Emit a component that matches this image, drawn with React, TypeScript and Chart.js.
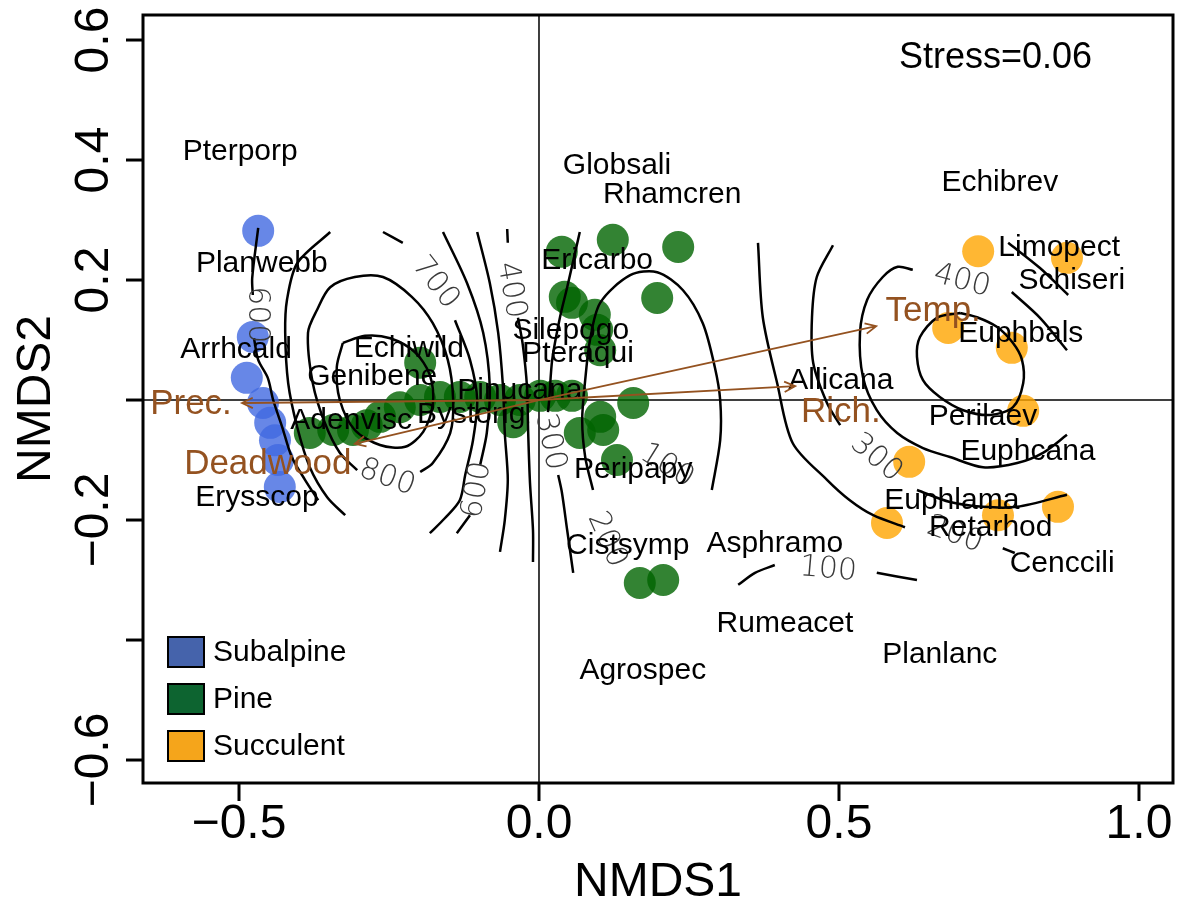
import React, { useEffect, useRef } from 'react';
import { Chart, registerables } from 'chart.js';
Chart.register(...registerables);

type P = [number, number];

// ---- site scores (NMDS1, NMDS2) ----
const subalpine: P[] = [
  [-0.468, 0.282], [-0.477, 0.105], [-0.487, 0.037], [-0.46, -0.005],
  [-0.448, -0.038], [-0.44, -0.067], [-0.435, -0.1], [-0.432, -0.145],
];
const pine: P[] = [
  [-0.382, -0.055], [-0.343, -0.05], [-0.31, -0.05], [-0.287, -0.042], [-0.265, -0.028],
  [-0.232, -0.012], [-0.198, 0.0], [-0.165, 0.005], [-0.132, 0.005], [-0.098, 0.005],
  [-0.065, 0.0], [-0.043, -0.037], [-0.032, 0.0], [0.002, 0.007], [0.027, 0.007],
  [0.055, 0.007], [0.102, -0.028], [0.068, -0.055], [0.107, -0.05], [0.157, -0.005],
  [0.13, -0.1], [-0.198, 0.062], [0.038, 0.247], [0.123, 0.267], [0.232, 0.255],
  [0.197, 0.17], [0.043, 0.172], [0.055, 0.162], [0.093, 0.142], [0.097, 0.117],
  [0.102, 0.083], [0.168, -0.305], [0.207, -0.3],
];
const succulent: P[] = [
  [0.732, 0.248], [0.88, 0.237], [0.682, 0.12], [0.788, 0.087], [0.807, -0.018],
  [0.617, -0.103], [0.58, -0.205], [0.765, -0.192], [0.865, -0.178],
];

// ---- species scores ----
const speciesNames = ['Pterporp', 'Planwebb', 'Arrhcald', 'Erysscop', 'Echiwild', 'Genibene', 'Adenvisc', 'Bystorig', 'Pinucana', 'Globsali', 'Rhamcren', 'Ericarbo', 'Silepogo', 'Pteraqui', 'Peripapy', 'Cistsymp', 'Asphramo', 'Rumeacet', 'Agrospec', 'Allicana', 'Echibrev', 'Limopect', 'Schiseri', 'Euphbals', 'Perilaev', 'Euphcana', 'Euphlama', 'Retarhod', 'Cenccili', 'Planlanc'];
const speciesX = [-0.498, -0.462, -0.505, -0.47, -0.217, -0.278, -0.313, -0.113, -0.032, 0.13, 0.222, 0.097, 0.053, 0.065, 0.157, 0.148, 0.393, 0.41, 0.173, 0.503, 0.768, 0.867, 0.888, 0.803, 0.74, 0.815, 0.688, 0.753, 0.872, 0.668];
const speciesY = [0.413, 0.227, 0.083, -0.163, 0.085, 0.038, -0.035, -0.025, 0.015, 0.39, 0.342, 0.232, 0.115, 0.077, -0.117, -0.243, -0.24, -0.373, -0.452, 0.032, 0.362, 0.253, 0.198, 0.11, -0.028, -0.087, -0.168, -0.213, -0.273, -0.425];

// ---- environmental vectors ----
const envNames = ['Prec.', 'Deadwood', 'Temp.', 'Rich.'];
const envArrowX = [-0.495, -0.307, 0.562, 0.427];
const envArrowY = [-0.005, -0.073, 0.123, 0.023];
const envLabelX = [-0.58, -0.452, 0.657, 0.503];
const envLabelY = [-0.007, -0.108, 0.148, -0.02];

// ---- ordisurf contour segments (NMDS1, NMDS2) ----
const contourSegments: P[][] = [
  // 600 left
  [[-0.468, 0.287], [-0.478, 0.203], [-0.477, 0.175]],
  [[-0.475, 0.103], [-0.468, 0.067], [-0.452, 0.037], [-0.443, 0.0], [-0.428, -0.045], [-0.412, -0.095], [-0.39, -0.133], [-0.368, -0.167]],
  // 700 left
  [[-0.348, 0.28], [-0.403, 0.228], [-0.42, 0.167], [-0.423, 0.112], [-0.418, 0.028], [-0.403, -0.045], [-0.382, -0.112], [-0.353, -0.162], [-0.323, -0.192]],
  // 800 loop
  [[-0.303, -0.117], [-0.332, -0.088], [-0.357, -0.038], [-0.377, 0.028], [-0.385, 0.112], [-0.37, 0.15], [-0.348, 0.188], [-0.307, 0.205], [-0.26, 0.205], [-0.212, 0.172], [-0.177, 0.128], [-0.152, 0.067], [-0.143, 0.0], [-0.148, -0.055], [-0.177, -0.105], [-0.198, -0.12]],
  // inner loop
  [[-0.327, 0.095], [-0.337, 0.055], [-0.332, 0.0], [-0.307, -0.05], [-0.265, -0.075], [-0.223, -0.078], [-0.193, -0.053], [-0.177, -0.008], [-0.182, 0.042], [-0.207, 0.08], [-0.248, 0.103], [-0.29, 0.107], [-0.327, 0.095]],
  // 700 right
  [[-0.26, 0.28], [-0.227, 0.262]],
  [[-0.14, 0.133], [-0.115, 0.067], [-0.103, 0.0], [-0.11, -0.067], [-0.123, -0.125], [-0.132, -0.167], [-0.157, -0.197], [-0.182, -0.222]],
  // 600 right
  [[-0.16, 0.28], [-0.12, 0.195], [-0.093, 0.112], [-0.082, 0.022], [-0.087, -0.055], [-0.098, -0.108]],
  [[-0.115, -0.192], [-0.137, -0.222]],
  // 500 right
  [[-0.103, 0.28], [-0.082, 0.195], [-0.068, 0.112], [-0.06, 0.022], [-0.057, -0.055], [-0.052, -0.133], [-0.057, -0.2], [-0.065, -0.253]],
  // 400
  [[-0.053, 0.285], [-0.052, 0.262]],
  [[-0.035, 0.137], [-0.027, 0.092], [-0.02, 0.022], [-0.018, -0.055], [-0.015, -0.138], [-0.01, -0.217], [-0.01, -0.27]],
  // 300 middle
  [[0.068, 0.28], [0.047, 0.188], [0.035, 0.138], [0.022, 0.067], [0.017, 0.0], [0.015, -0.02]],
  [[0.032, -0.125], [0.038, -0.153], [0.047, -0.217], [0.057, -0.288]],
  // dome (low values)
  [[0.09, -0.15], [0.077, -0.095], [0.072, -0.033], [0.077, 0.033], [0.085, 0.1], [0.102, 0.162], [0.152, 0.208], [0.197, 0.213], [0.24, 0.183], [0.273, 0.128], [0.293, 0.055], [0.302, 0.0], [0.302, -0.067], [0.288, -0.15]],
  // 200 right system
  [[0.365, 0.262], [0.373, 0.138], [0.397, 0.028], [0.423, -0.072], [0.48, -0.133], [0.518, -0.167], [0.557, -0.192], [0.61, -0.212]],
  [[0.773, -0.247], [0.793, -0.255]],
  // 300 right system
  [[0.49, 0.258], [0.463, 0.205], [0.455, 0.138], [0.457, 0.062], [0.48, -0.005], [0.502, -0.042]],
  [[0.63, -0.15], [0.685, -0.17], [0.74, -0.178], [0.797, -0.178], [0.88, -0.158]],
  [[0.782, 0.262], [0.835, 0.22], [0.882, 0.175]],
  // 400 right system
  [[0.88, 0.083], [0.835, 0.137], [0.788, 0.18]],
  [[0.623, 0.217], [0.598, 0.222], [0.573, 0.205], [0.547, 0.167], [0.535, 0.112], [0.54, 0.038], [0.563, -0.017], [0.597, -0.055], [0.64, -0.08], [0.685, -0.095], [0.74, -0.112], [0.797, -0.105], [0.84, -0.088], [0.88, -0.058]],
  // inner right loop
  [[0.702, 0.145], [0.663, 0.137], [0.635, 0.105], [0.63, 0.072], [0.64, 0.033], [0.668, 0.005], [0.707, -0.017], [0.752, -0.025], [0.79, -0.012], [0.807, 0.028], [0.805, 0.067], [0.79, 0.095], [0.763, 0.122], [0.73, 0.138], [0.702, 0.145]],
  // 100 bottom
  [[0.332, -0.308], [0.36, -0.288], [0.393, -0.275]],
  [[0.563, -0.288], [0.63, -0.3]],
];

const contourLabelText = ['600', '800', '700', '600', '400', '300', '200', '100', '200', '300', '400', '100'];
const contourLabelX = [-0.47, -0.253, -0.173, -0.103, -0.047, 0.018, 0.113, 0.213, 0.693, 0.562, 0.705, 0.482];
const contourLabelY = [0.142, -0.13, 0.195, -0.15, 0.183, -0.07, -0.233, -0.11, -0.225, -0.097, 0.198, -0.283];
const contourLabelAngle = [90, 20, 52, -80, 80, 78, 66, 32, 20, 40, 15, 5];

const xTicks = [-0.5, 0, 0.5, 1.0];
const xTickLabels = ['\u22120.5', '0.0', '0.5', '1.0'];
const yTicks = [-0.6, -0.4, -0.2, 0, 0.2, 0.4, 0.6];
const yTickLabels = ['\u22120.6', '', '\u22120.2', '', '0.2', '0.4', '0.6'];

const groupNames = ['Subalpine', 'Pine', 'Succulent'];
const groupPointColors = ['rgba(65,105,225,0.8)', 'rgba(0,100,0,0.8)', 'rgba(255,165,0,0.8)'];
const groupLegendColors = ['#4563AB', '#0D6430', '#F5A51B'];
const stressText = 'Stress=0.06';

const SANS = '"Liberation Sans", Arial, Helvetica, sans-serif';
const BROWN = 'rgb(148,82,32)';

export default function App() {
  const ref = useRef<HTMLCanvasElement | null>(null);
  useEffect(() => {
    const canvas = ref.current;
    if (!canvas) return;

    const overlay = {
      id: 'overlay',
      beforeDatasetsDraw(chart: any) {
        const { ctx, chartArea: a, scales } = chart;
        const x0 = scales.x.getPixelForValue(0);
        const y0 = scales.y.getPixelForValue(0);
        ctx.save();
        ctx.strokeStyle = '#000';
        ctx.lineWidth = 1.5;
        ctx.beginPath();
        ctx.moveTo(x0, a.top); ctx.lineTo(x0, a.bottom);
        ctx.moveTo(a.left, y0); ctx.lineTo(a.right, y0);
        ctx.stroke();
        ctx.restore();
      },
      afterDatasetsDraw(chart: any) {
        const { ctx, chartArea: a, scales } = chart;
        const px = (v: number) => scales.x.getPixelForValue(v);
        const py = (v: number) => scales.y.getPixelForValue(v);
        ctx.save();
        // contour labels
        ctx.fillStyle = '#3a3a3a';
        ctx.font = '200 30px "DejaVu Sans", sans-serif';
        ctx.textAlign = 'center';
        ctx.textBaseline = 'middle';
        contourLabelText.forEach((t, i) => {
          ctx.save();
          ctx.translate(px(contourLabelX[i]), py(contourLabelY[i]));
          ctx.rotate((contourLabelAngle[i] * Math.PI) / 180);
          ctx.fillText(t, 0, 0);
          ctx.restore();
        });
        // species labels
        ctx.fillStyle = '#000';
        ctx.font = `30px ${SANS}`;
        speciesNames.forEach((n, i) => {
          ctx.fillText(n, px(speciesX[i]), py(speciesY[i]));
        });
        // env arrows
        ctx.strokeStyle = BROWN;
        ctx.lineWidth = 1.8;
        const ox = px(0), oy = py(0);
        envNames.forEach((_, i) => {
          const tx = px(envArrowX[i]), ty = py(envArrowY[i]);
          ctx.beginPath();
          ctx.moveTo(ox, oy); ctx.lineTo(tx, ty);
          const th = Math.atan2(ty - oy, tx - ox);
          const L = 12;
          ctx.moveTo(tx - L * Math.cos(th - 0.45), ty - L * Math.sin(th - 0.45));
          ctx.lineTo(tx, ty);
          ctx.lineTo(tx - L * Math.cos(th + 0.45), ty - L * Math.sin(th + 0.45));
          ctx.stroke();
        });
        ctx.fillStyle = BROWN;
        ctx.font = `35px ${SANS}`;
        envNames.forEach((n, i) => {
          ctx.fillText(n, px(envLabelX[i]), py(envLabelY[i]));
        });
        // stress
        ctx.fillStyle = '#000';
        ctx.font = `36px ${SANS}`;
        ctx.textAlign = 'right';
        ctx.textBaseline = 'alphabetic';
        ctx.fillText(stressText, a.right - 81, a.top + 53);
        // legend
        ctx.textAlign = 'left';
        ctx.textBaseline = 'middle';
        ctx.font = `30px ${SANS}`;
        groupNames.forEach((n, i) => {
          const lx = a.left + 25;
          const ly = a.bottom - 146 + i * 47;
          ctx.fillStyle = groupLegendColors[i];
          ctx.fillRect(lx, ly, 36, 30);
          ctx.strokeStyle = '#000';
          ctx.lineWidth = 2;
          ctx.strokeRect(lx, ly, 36, 30);
          ctx.fillStyle = '#000';
          ctx.fillText(n, lx + 45, ly + 16);
        });
        ctx.restore();
      },
      afterDraw(chart: any) {
        const { ctx, chartArea: a, scales } = chart;
        ctx.save();
        ctx.strokeStyle = '#000';
        ctx.lineWidth = 3;
        ctx.strokeRect(a.left, a.top, a.right - a.left, a.bottom - a.top);
        ctx.fillStyle = '#000';
        ctx.font = `48px ${SANS}`;
        // x ticks
        ctx.textAlign = 'center';
        ctx.textBaseline = 'alphabetic';
        xTicks.forEach((t, i) => {
          const x = scales.x.getPixelForValue(t);
          ctx.beginPath();
          ctx.moveTo(x, a.bottom); ctx.lineTo(x, a.bottom + 18);
          ctx.stroke();
          ctx.fillText(xTickLabels[i], x, a.bottom + 55);
        });
        // y ticks
        yTicks.forEach((t, i) => {
          const y = scales.y.getPixelForValue(t);
          ctx.beginPath();
          ctx.moveTo(a.left, y); ctx.lineTo(a.left - 17, y);
          ctx.stroke();
          if (yTickLabels[i]) {
            ctx.save();
            ctx.translate(a.left - 35, y);
            ctx.rotate(-Math.PI / 2);
            ctx.fillText(yTickLabels[i], 0, 0);
            ctx.restore();
          }
        });
        // axis titles
        ctx.fillText('NMDS1', (a.left + a.right) / 2, a.bottom + 113);
        ctx.save();
        ctx.translate(50, (a.top + a.bottom) / 2);
        ctx.rotate(-Math.PI / 2);
        ctx.fillText('NMDS2', 0, 0);
        ctx.restore();
        ctx.restore();
      },
    };

    const contourDatasets = contourSegments.map((seg) => ({
      data: seg.map(([x, y]) => ({ x, y })),
      showLine: true,
      pointRadius: 0,
      borderColor: '#000',
      borderWidth: 2.5,
      tension: 0.3,
      fill: false,
      order: 0,
    }));
    const pointDatasets = [subalpine, pine, succulent].map((g, i) => ({
      label: groupNames[i],
      data: g.map(([x, y]) => ({ x, y })),
      pointRadius: 16,
      pointHoverRadius: 16,
      backgroundColor: groupPointColors[i],
      borderWidth: 0,
      order: 1,
    }));

    const chart = new Chart(canvas, {
      type: 'scatter',
      data: { datasets: [...contourDatasets, ...pointDatasets] as any },
      options: {
        responsive: false,
        animation: false,
        devicePixelRatio: 1,
        events: [],
        layout: { autoPadding: false, padding: { left: 143, top: 15, right: 4, bottom: 116 } },
        plugins: { legend: { display: false }, tooltip: { enabled: false } },
        scales: {
          x: { type: 'linear', min: -0.66, max: 1.0567, display: false },
          y: { type: 'linear', min: -0.6383, max: 0.6417, display: false },
        },
      },
      plugins: [overlay],
    });
    return () => chart.destroy();
  }, []);

  return (
    <div style={{ position: 'absolute', left: 0, top: 0, width: 1177, height: 899, background: '#fff' }}>
      <canvas ref={ref} width={1177} height={899} style={{ width: 1177, height: 899, display: 'block' }} />
    </div>
  );
}
